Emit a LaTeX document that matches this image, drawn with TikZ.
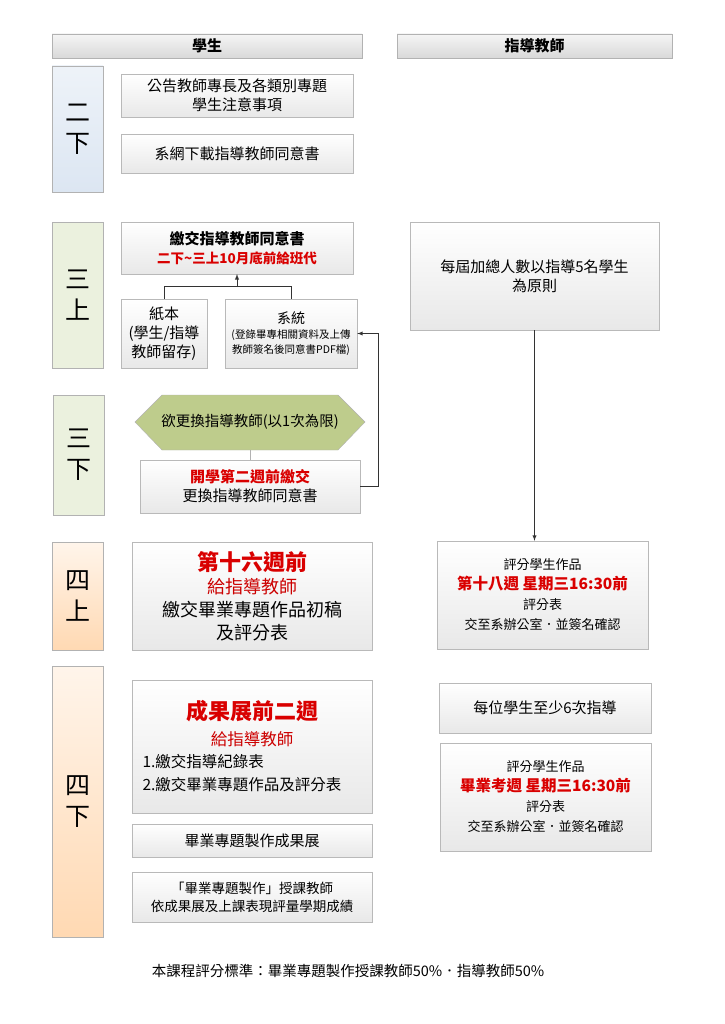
\documentclass[tikz,border=0pt]{standalone}
\usepackage{fontspec}
\setmainfont{Noto Sans CJK TC}
\usetikzlibrary{shadows}
\begin{document}
\begin{tikzpicture}[x=1pt,y=-1pt]

\tikzset{box/.style = {draw=gray!55, top color=white, bottom color=gray!18, drop shadow={opacity=0.15,shadow xshift=1pt,shadow yshift=-1pt}, align=center, inner sep=2pt, font=\fontsize{15}{19}\selectfont}}
\tikzset{head/.style = {draw=gray!60, top color=gray!8, bottom color=gray!30, font=\fontsize{15}{17}\selectfont\bfseries}}
\tikzset{term/.style = {draw=gray!60, align=center, font=\fontsize{25}{31}\selectfont}}
\tikzset{edge/.style = {->, >=latex, draw=gray!40!black, line width=0.9pt}}
\tikzset{red/.style = {text=red!85!black}}
\definecolor{termblue}{RGB}{220,230,242}
\definecolor{termgreen}{RGB}{235,241,222}
\definecolor{hexgreen}{RGB}{190,204,140}
\useasboundingbox (0,0) rectangle (724,1024);
%headers
\node[head, minimum width=310, minimum height=24] (hs) at (207,46) {學生};
\node[head, minimum width=275, minimum height=24] (ht) at (534.5,46) {指導教師};
%semesters
\node[term, top color=termblue!50, bottom color=termblue, minimum width=51, minimum height=126] (s1) at (77.5,129) {二\\下};
\node[term, fill=termgreen, minimum width=51, minimum height=146] (s2) at (77.5,295) {三\\上};
\node[term, fill=termgreen, minimum width=51, minimum height=120] (s3) at (78.5,455) {三\\下};
\node[term, top color=orange!8, bottom color=orange!30, minimum width=51, minimum height=108] (s4) at (77.5,596) {四\\上};
\node[term, top color=orange!8, bottom color=orange!30, minimum width=51, minimum height=271] (s5) at (77.5,801.5) {四\\下};
%student boxes
\node[box, minimum width=232, minimum height=43] (notice) at (237,95.5) {公告教師專長及各類別專題\\學生注意事項};
\node[box, minimum width=232, minimum height=39] (download) at (237,153.5) {系網下載指導教師同意書};
\node[box, minimum width=232, minimum height=52] (submit) at (237,248) {{\bfseries 繳交指導教師同意書}\\{\fontsize{13.5}{18}\selectfont\bfseries\color{red!85!black}二下\textasciitilde 三上10月底前給班代}};
\node[box, minimum width=86, minimum height=69] (paper) at (164,333.5) {紙本\\(學生/指導\\教師留存)};
\node[box, minimum width=132, minimum height=69, font=\fontsize{10.5}{15}\selectfont] (system) at (291,333.5) {{\fontsize{14}{18}\selectfont 系統}\\(登錄畢專相關資料及上傳\\教師簽名後同意書PDF檔)};
\path[draw=gray!60, fill=hexgreen] (135,422) -- (162,395) -- (338,395) -- (365,422) -- (338,450) -- (162,450) -- cycle;
\node[font=\fontsize{14.5}{18}\selectfont] (change) at (250,422) {欲更換指導教師(以1次為限)};
\coordinate (changeb) at (250,450);
\node[box, minimum width=220, minimum height=53] (resubmit) at (250,486.5) {{\bfseries\color{red!85!black}開學第二週前繳交}\\更換指導教師同意書};
\node[box, minimum width=240, minimum height=108, font=\fontsize{18}{23}\selectfont] (draft) at (252,596) {{\fontsize{22}{26}\selectfont\bfseries\color{red!85!black}第十六週前}\\{\color{red!80!black}給指導教師}\\繳交畢業專題作品初稿\\及評分表};
\node[box, minimum width=240, minimum height=133] (final) at (252,746.5) {};
\node[font=\fontsize{22}{26}\selectfont\bfseries, red] at (252,711) {成果展前二週};
\node[font=\fontsize{16.5}{20}\selectfont, text=red!80!black] at (252,739) {給指導教師};
\node[font=\fontsize{15.5}{19}\selectfont, anchor=west] at (139,762) {1.繳交指導紀錄表};
\node[font=\fontsize{15.5}{19}\selectfont, anchor=west] at (139,785) {2.繳交畢業專題作品及評分表};
\node[box, minimum width=240, minimum height=33] (expo) at (252,840.5) {畢業專題製作成果展};
\node[box, minimum width=240, minimum height=50, font=\fontsize{13.5}{18}\selectfont] (grade) at (252,897) {「畢業專題製作」授課教師\\依成果展及上課表現評量學期成績};
%teacher boxes
\node[box, minimum width=249, minimum height=108] (limit) at (534.5,276) {每屆加總人數以指導5名學生\\為原則};
\node[box, minimum width=211, minimum height=108, font=\fontsize{13}{20}\selectfont] (score1) at (542.5,595) {評分學生作品\\{\fontsize{15.5}{20}\selectfont\bfseries\color{red!85!black}第十八週 星期三16:30前}\\評分表\\交至系辦公室．並簽名確認};
\node[box, minimum width=212, minimum height=50] (guide) at (545,708) {每位學生至少6次指導};
\node[box, minimum width=211, minimum height=108, font=\fontsize{13}{20}\selectfont] (score2) at (545.5,797) {評分學生作品\\{\fontsize{15.5}{20}\selectfont\bfseries\color{red!85!black}畢業考週 星期三16:30前}\\評分表\\交至系辦公室．並簽名確認};
%footer
\node[font=\fontsize{14.5}{17}\selectfont] (rule) at (348,971) {本課程評分標準：畢業專題製作授課教師50\%．指導教師50\%};
%edges
\draw[edge, -] (paper.north) -- ++(0,-12) -| (system.north);
\draw[edge] (237,287) -- (237,274);
\draw[draw=gray!60] (changeb) -- (resubmit.north);
\draw[edge] (resubmit.east) -- ++(18,0) |- (system.east);
\draw[edge] (limit.south) -- (limit.south |- score1.north);

\end{tikzpicture}
\end{document}
